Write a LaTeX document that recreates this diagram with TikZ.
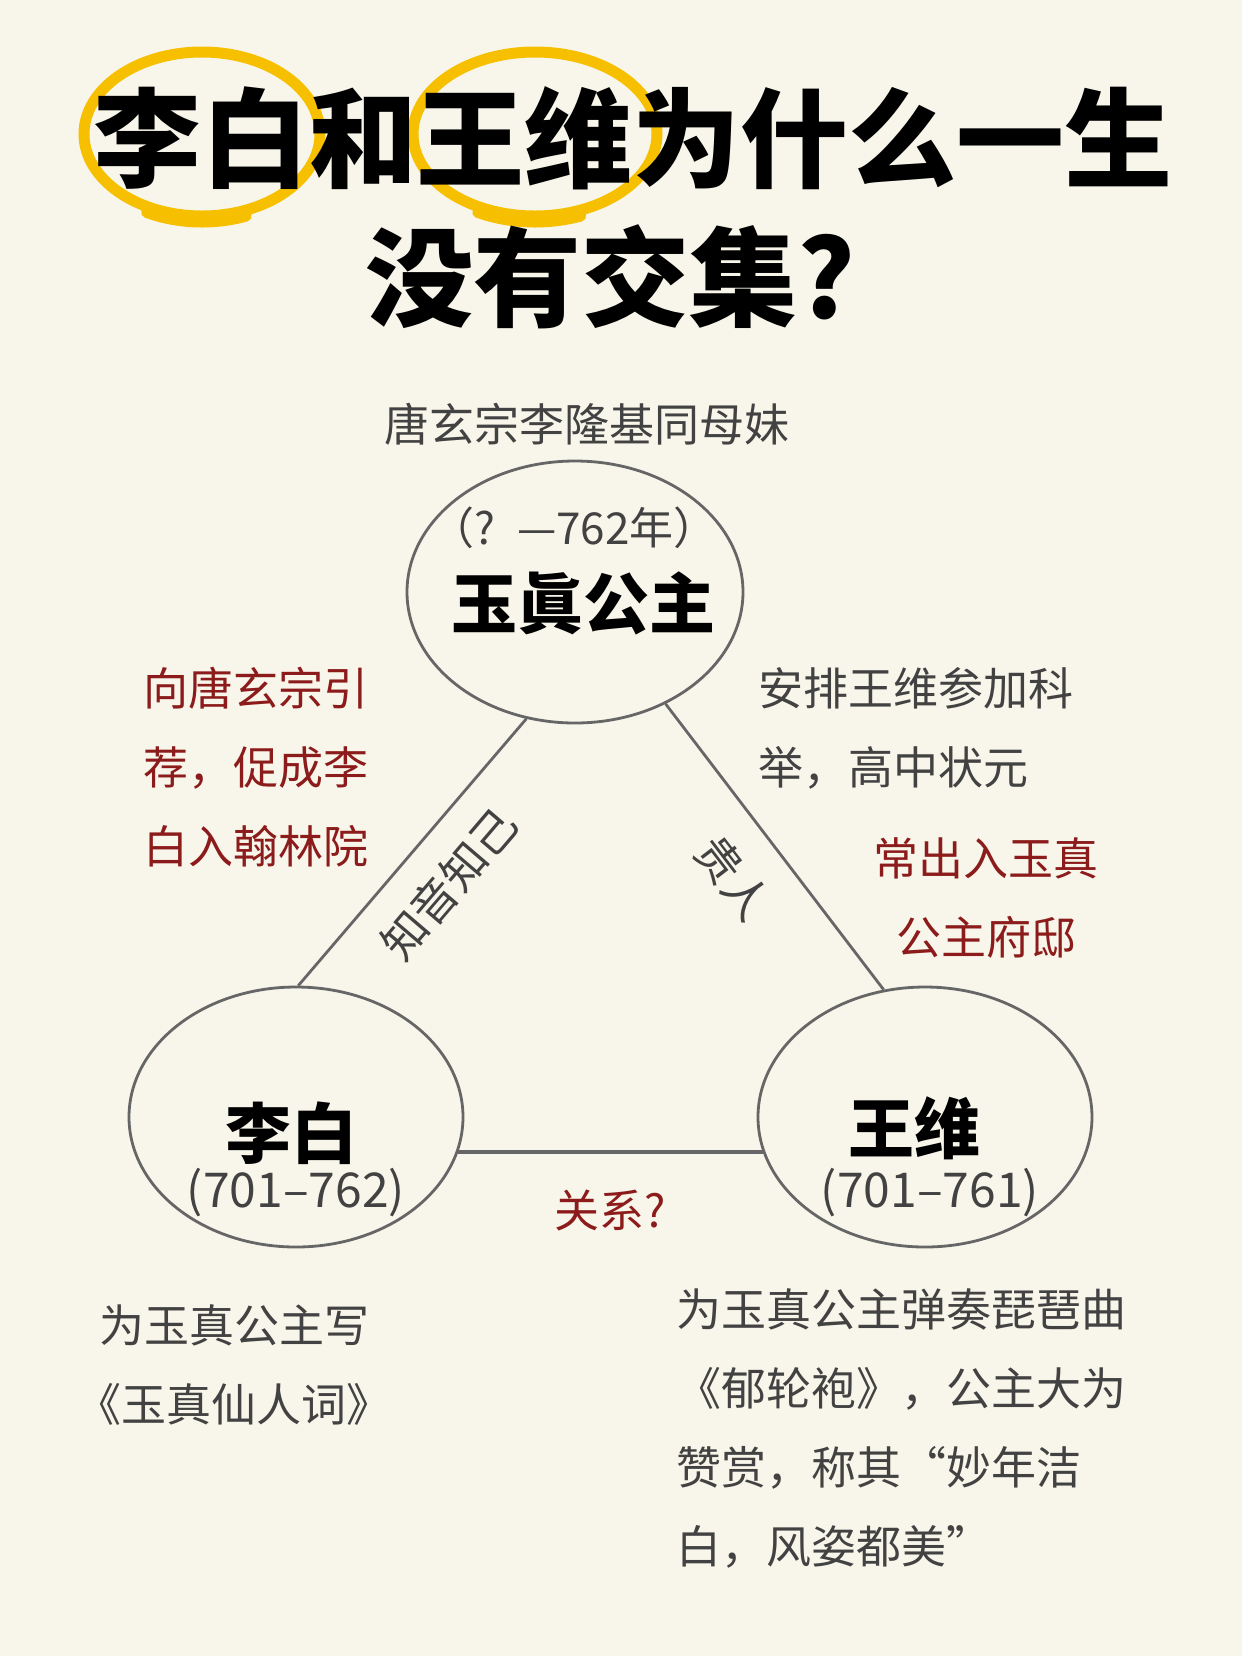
\documentclass[tikz,border=0pt]{standalone}
\usepackage{fontspec}
\setmainfont{Noto Sans CJK SC}
\usetikzlibrary{shapes.geometric}

\definecolor{paper}{HTML}{F8F6EA}
\definecolor{ink}{HTML}{424242}
\definecolor{wine}{HTML}{8C1C1C}
\definecolor{edgegray}{HTML}{666666}
\definecolor{marker}{HTML}{F6C000}

\newcommand{\headfont}{\bfseries\fontsize{54}{60}\selectfont}
\newcommand{\notefont}{\fontsize{22.5}{39.5}\selectfont}
\newcommand{\namefont}{\bfseries\fontsize{33}{40}\selectfont}
\newcommand{\yearfont}{\fontsize{22}{26}\selectfont}
\newcommand{\lifefont}{\fontsize{24}{28}\selectfont}

\begin{document}
\begin{tikzpicture}[
            x=0.5pt,
            y=-0.5pt,
            person/.style={
                ellipse,
                draw=edgegray,
                line width=1.4pt,
                minimum width=167pt,
                minimum height=130pt,
                inner sep=0pt
            },
            hilite/.style={
                draw=marker,
                line width=5.5pt
            },
            link/.style={
                draw=edgegray,
                line width=1.4pt
            },
            headline/.style={
                inner sep=0pt,
                font=\headfont
            },
            note/.style={
                text=ink,
                font=\notefont,
                inner sep=0pt
            },
            rednote/.style={
                note,
                text=wine
            },
            pname/.style={
                inner sep=0pt,
                font=\namefont
            },
            years/.style={
                inner sep=0pt,
                text=ink,
                font=\yearfont
            },
            life/.style={
                years,
                font=\lifefont
            }
        ]

            \fill[paper] (0,0) rectangle (1242,1656);
            \useasboundingbox (0,0) rectangle (1242,1656);

            % title with the two marker rings
            \draw[hilite] (202,134) ellipse[x radius=59pt, y radius=41pt];
            \draw[hilite] (535,134) ellipse[x radius=61pt, y radius=41pt];
            \draw[hilite, line cap=round] (202,140) ++(242:59pt and 41pt)
                arc[start angle=242, end angle=292, x radius=59pt, y radius=41pt];
            \draw[hilite, line cap=round] (535,140) ++(242:61pt and 41pt)
                arc[start angle=242, end angle=292, x radius=61pt, y radius=41pt];

            \node[headline] (title) at (633, 138) {李白和王维为什么一生};
            \node[headline] (title2) at (610, 277) {没有交集?};

            \node[note] (sister) at (587, 424) {唐玄宗李隆基同母妹};

            % the three people
            \node[person, minimum width=168pt, minimum height=131pt] (gz) at (575, 592) {};
            \node[person] (lb) at (296, 1117) {};
            \node[person] (ww) at (925, 1117) {};

            \node[years] (gzyears) at (574, 528) {（?\hspace{0.5em}—762年）};
            \node[pname] (gzname) at (583, 603) {玉眞公主};
            \node[pname] (lbname) at (291, 1133) {李白};
            \node[life] (lbyears) at (296, 1193) {(701–762)};
            \node[pname] (wwname) at (914, 1128) {王维};
            \node[life] (wwyears) at (930, 1193) {(701–761)};

            \draw[link] (lb.89) -- (gz.249)
                node[midway, sloped, below=13pt, note] {知音知己};
            \draw[link] (gz.309) -- (ww.108)
                node[midway, sloped, below=15pt, note] {贵人};
            \draw[link, line width=2pt] (lb.-12) -- (ww.192)
                node[midway, below=18pt, rednote] {关系?};

            % side notes
            \node[rednote, align=left] (recommend) at (256, 767)
                {向唐玄宗引\\荐，促成李\\白入翰林院};
            \node[note, align=left, anchor=west] (exam) at (758, 728)
                {安排王维参加科\\举，高中状元};
            \node[rednote, align=center] (visit) at (986, 898)
                {常出入玉真\\公主府邸};
            \node[note, align=center] (poem) at (234, 1365)
                {为玉真公主写\\《玉真仙人词》};
            \node[note, align=left, anchor=west] (pipa) at (676, 1428)
                {为玉真公主弹奏琵琶曲\\《郁轮袍》，公主大为\\赞赏，称其“妙年洁\\白，风姿都美”};

        \end{tikzpicture}
\end{document}
